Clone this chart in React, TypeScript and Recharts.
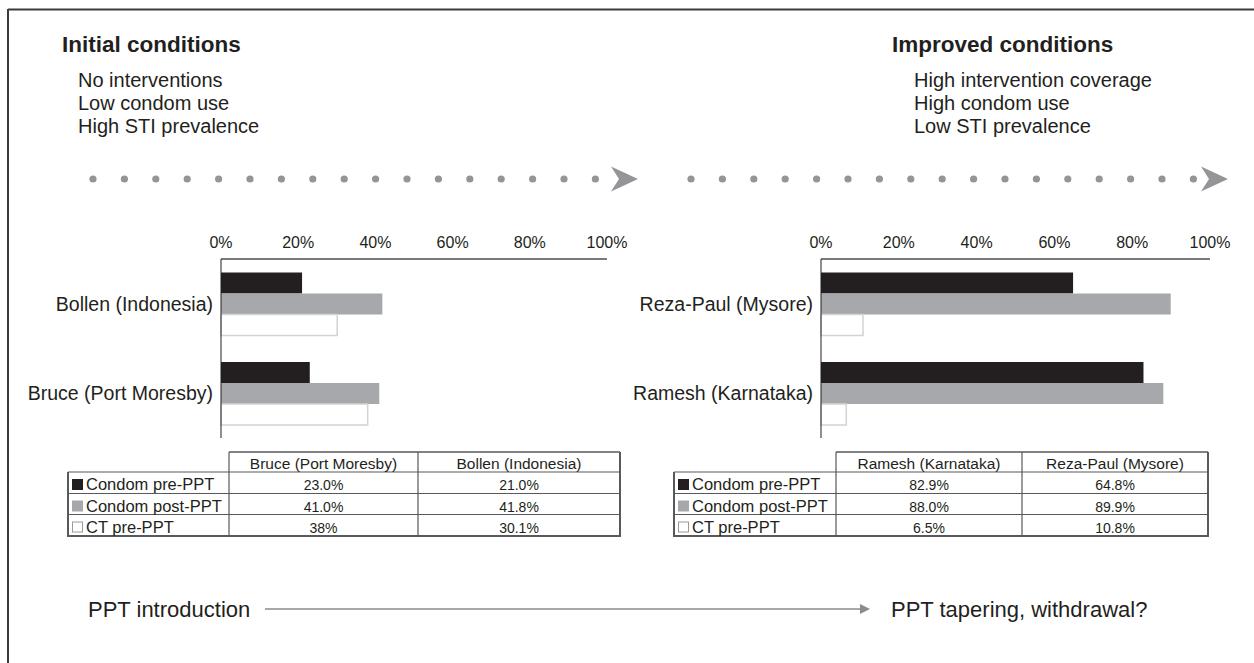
import React from 'react';
import { BarChart, Bar, XAxis, YAxis } from 'recharts';

const FONT = "'Liberation Sans', Arial, Helvetica, sans-serif";
const INK = '#231f20';
const GREY = '#a6a8ab';
const DOT = '#939598';
const RULE = '#4d4d4f';
const GRID = '#58595b';

// series shown in both panels (legend rows of the tables)
const seriesNames = ['Condom pre-PPT', 'Condom post-PPT', 'CT pre-PPT'];
const pctTicks = [0, 20, 40, 60, 80, 100];

// left panel, in table order (chart draws them bottom-up)
const leftSites = ['Bruce (Port Moresby)', 'Bollen (Indonesia)'];
const leftCondomPre = ['23.0', '21.0'];
const leftCondomPost = ['41.0', '41.8'];
const leftCtPre = ['38', '30.1'];

// right panel
const rightSites = ['Ramesh (Karnataka)', 'Reza-Paul (Mysore)'];
const rightCondomPre = ['82.9', '64.8'];
const rightCondomPost = ['88.0', '89.9'];
const rightCtPre = ['6.5', '10.8'];

const initialLines = ['No interventions', 'Low condom use', 'High STI prevalence'];
const improvedLines = ['High intervention coverage', 'High condom use', 'Low STI prevalence'];

const swatchFill = [INK, GREY, '#ffffff'];
const swatchStroke = [INK, GREY, '#9a9a9a'];

function buildRows(sites: string[], pre: string[], post: string[], ct: string[]) {
  return sites
    .map((site, i) => ({ site, pre: Number(pre[i]), post: Number(post[i]), ct: Number(ct[i]) }))
    .reverse();
}

function Panel({ left, width, axisWidth, marginRight, rows }: any) {
  return (
    <div style={{ position: 'absolute', left, top: 220 }}>
      <BarChart
        width={width}
        height={230}
        data={rows}
        layout="vertical"
        margin={{ top: 0, right: marginRight, bottom: 12, left: 0 }}
        barCategoryGap="15%"
        barGap={0}
      >
        <XAxis
          type="number"
          orientation="top"
          domain={[0, 100]}
          ticks={pctTicks}
          interval={0}
          tickFormatter={(v) => `${v}%`}
          height={39}
          axisLine={{ stroke: RULE, strokeWidth: 1.5 }}
          tickLine={false}
          tickMargin={5}
          tick={{ fontSize: 16, fill: INK, fontFamily: FONT }}
        />
        <YAxis
          type="category"
          dataKey="site"
          width={axisWidth}
          axisLine={{ stroke: INK }}
          tickLine={false}
          tickSize={0}
          tickMargin={8}
          tick={{ fontSize: 19.5, fill: INK, fontFamily: FONT }}
        />
        <Bar dataKey="pre" fill={INK} isAnimationActive={false} />
        <Bar dataKey="post" fill={GREY} isAnimationActive={false} />
        <Bar dataKey="ct" fill="#ffffff" stroke="#d1d3d4" strokeWidth={1.5} isAnimationActive={false} />
      </BarChart>
    </div>
  );
}

// table drawn as svg: xs = column edges, ys = row edges (header first)
function DataTable({ xs, ys, sites, columns }: any) {
  const right = xs[xs.length - 1];
  const bottom = ys[ys.length - 1];
  return (
    <g fontFamily={FONT} fill={INK}>
      <line x1={xs[1]} y1={ys[0]} x2={right} y2={ys[0]} stroke={GRID} strokeWidth={1.5} />
      {ys.slice(1, -1).map((y: number) => (
        <line key={y} x1={xs[0]} y1={y} x2={right} y2={y} stroke={GRID} strokeWidth={1.2} />
      ))}
      <line x1={xs[0] - 1} y1={bottom} x2={right + 1} y2={bottom} stroke={GRID} strokeWidth={2} />
      <line x1={xs[0]} y1={ys[1]} x2={xs[0]} y2={bottom} stroke={GRID} strokeWidth={2} />
      {xs.slice(1, -1).map((x: number) => (
        <line key={x} x1={x} y1={ys[0]} x2={x} y2={bottom} stroke={GRID} strokeWidth={1.2} />
      ))}
      <line x1={right} y1={ys[0]} x2={right} y2={bottom} stroke={GRID} strokeWidth={2} />

      {sites.map((s: string, j: number) => (
        <text key={s} x={(xs[j + 1] + xs[j + 2]) / 2} y={ys[0] + 16.5} fontSize={15.5} textAnchor="middle">
          {s}
        </text>
      ))}
      {seriesNames.map((name, r) => (
        <g key={name}>
          <rect
            x={xs[0] + 4.5}
            y={ys[r + 1] + 7.5}
            width={10}
            height={10}
            fill={swatchFill[r]}
            stroke={swatchStroke[r]}
            strokeWidth={1}
          />
          <text x={xs[0] + 18} y={ys[r + 1] + 18} fontSize={16.5}>
            {name}
          </text>
          {columns[r].map((v: string, j: number) => (
            <text
              key={j}
              x={(xs[j + 1] + xs[j + 2]) / 2}
              y={ys[r + 1] + 18}
              fontSize={14}
              textAnchor="middle"
            >
              {v}%
            </text>
          ))}
        </g>
      ))}
    </g>
  );
}

function DottedArrow({ x0, tip, y }: { x0: number; tip: number; y: number }) {
  const dots = [];
  for (let i = 0; i < 17; i++) {
    dots.push(<circle key={i} cx={x0 + i * 31.4} cy={y} r={3.6} fill={DOT} />);
  }
  const back = tip - 27;
  return (
    <g>
      {dots}
      <path d={`M${back},${y - 12.5} L${tip},${y} L${back},${y + 12.5} L${back + 8},${y} Z`} fill={DOT} />
    </g>
  );
}

const tableRows = [452, 472, 493.5, 514.5, 536];

export default function App() {
  const leftRows = buildRows(leftSites, leftCondomPre, leftCondomPost, leftCtPre);
  const rightRows = buildRows(rightSites, rightCondomPre, rightCondomPost, rightCtPre);

  return (
    <div
      style={{
        position: 'absolute',
        left: 0,
        top: 0,
        width: 1254,
        height: 663,
        background: '#fff',
        overflow: 'hidden',
        fontFamily: FONT,
      }}
    >
      <svg width={1254} height={663} style={{ position: 'absolute', left: 0, top: 0 }} fontFamily={FONT}>
        <line x1={8} y1={9.5} x2={1254} y2={9.5} stroke="#3a3a3c" strokeWidth={2} />
        <line x1={8} y1={9} x2={8} y2={663} stroke="#3a3a3c" strokeWidth={2} />

        <text x={62} y={52} fontSize={22.5} fontWeight="bold" fill={INK}>
          Initial conditions
        </text>
        {initialLines.map((t, i) => (
          <text key={t} x={78} y={87 + i * 23} fontSize={20} fill={INK}>
            {t}
          </text>
        ))}
        <text x={892} y={52} fontSize={22.5} fontWeight="bold" fill={INK}>
          Improved conditions
        </text>
        {improvedLines.map((t, i) => (
          <text key={t} x={914} y={87 + i * 23} fontSize={20} fill={INK}>
            {t}
          </text>
        ))}

        <DottedArrow x0={93} tip={638} y={179} />
        <DottedArrow x0={691} tip={1228} y={179} />

        <DataTable
          xs={[68, 229, 418, 620]}
          ys={tableRows}
          sites={leftSites}
          columns={[leftCondomPre, leftCondomPost, leftCtPre]}
        />
        <DataTable
          xs={[674, 836, 1022, 1208]}
          ys={tableRows}
          sites={rightSites}
          columns={[rightCondomPre, rightCondomPost, rightCtPre]}
        />

        <text x={88} y={617} fontSize={22} fill={INK}>
          PPT introduction
        </text>
        <line x1={265} y1={609} x2={864} y2={609} stroke="#8a8b8d" strokeWidth={1.3} />
        <path d="M860,604 L870,609 L860,614 Z" fill="#8a8b8d" />
        <text x={891} y={617} fontSize={22} fill={INK}>
          PPT tapering, withdrawal?
        </text>
      </svg>

      <Panel left={0} width={640} axisWidth={221} marginRight={33} rows={leftRows} />
      <Panel left={600} width={654} axisWidth={221} marginRight={44} rows={rightRows} />
    </div>
  );
}
